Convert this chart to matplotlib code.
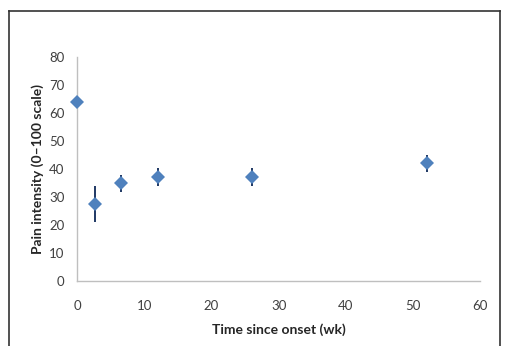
import matplotlib.pyplot as plt
from matplotlib.lines import Line2D

# data
weeks = [0, 2.7, 6.6, 12.1, 26.1, 52.1]
pain = [64.0, 27.5, 34.9, 37.0, 37.0, 42.0]
pain_err = [2.0, 6.6, 3.0, 3.2, 3.2, 3.0]
x_ticks = [0, 10, 20, 30, 40, 50, 60]
y_ticks = [0, 10, 20, 30, 40, 50, 60, 70, 80]

plt.rcParams['font.family'] = ['Lato', 'DejaVu Sans']

fig = plt.figure(figsize=(5.07, 3.46), dpi=100)
ax = fig.add_axes([0.152, 0.188, 0.795, 0.647])

ax.errorbar(weeks, pain, yerr=pain_err, fmt='D', color='#4F81BD',
            markersize=7.3, ecolor='#1F3864', elinewidth=1.4, capsize=0,
            markeredgewidth=0, zorder=3, clip_on=False)

ax.set_xlim(0, 60)
ax.set_ylim(0, 80)
ax.set_xticks(x_ticks)
ax.set_yticks(y_ticks)
ax.tick_params(length=0, labelsize=9.5, colors='#404040', pad=9)
ax.tick_params(axis='x', pad=14)

for s in ['top', 'right']:
    ax.spines[s].set_visible(False)
for s in ['left', 'bottom']:
    ax.spines[s].set_color('#BFBFBF')
    ax.spines[s].set_linewidth(1.0)

ax.set_xlabel('Time since onset (wk)', fontsize=10, fontweight='bold',
              color='#262626', labelpad=8)
ax.set_ylabel('Pain intensity (0\u2013100 scale)', fontsize=10,
              fontweight='bold', color='#262626', labelpad=4)

# chart border (cropped at the bottom)
x0, x1, ytop = 9 / 507, 500 / 507, 1 - 10.5 / 346
for xs, ys in [([x0, x1], [ytop, ytop]), ([x0, x0], [ytop, 0]),
               ([x1, x1], [ytop, 0])]:
    fig.add_artist(Line2D(xs, ys, color='#333333', linewidth=1.2,
                          transform=fig.transFigure))

fig.savefig('out.png', dpi=100)
